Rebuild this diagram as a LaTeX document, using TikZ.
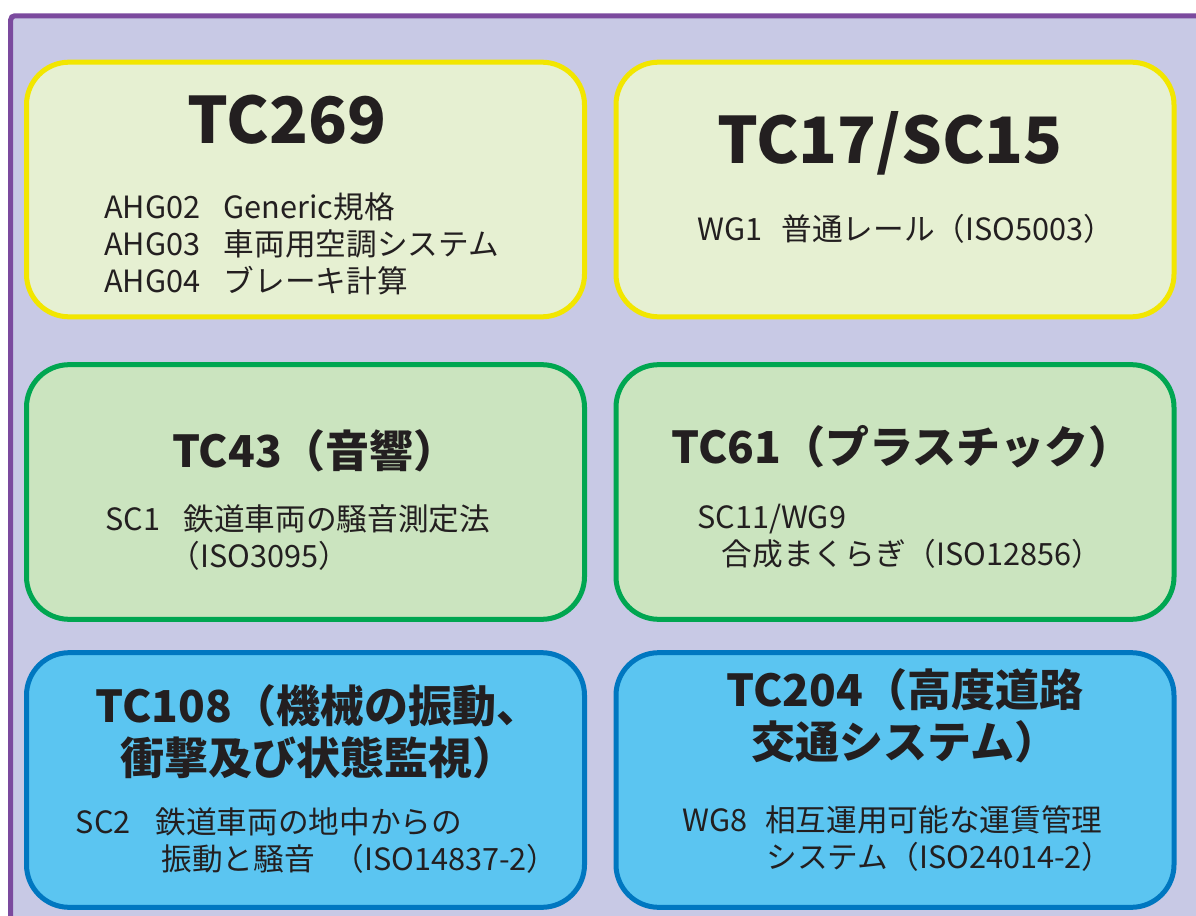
\documentclass[tikz,border=0pt]{standalone}
\usepackage{fontspec}
\setmainfont{Noto Sans CJK JP}

\definecolor{frameviolet}{HTML}{7B4A9E}
\definecolor{backlilac}{HTML}{C8C9E5}
\definecolor{ylwline}{HTML}{F2E600}
\definecolor{ylwfill}{HTML}{E6F0D2}
\definecolor{grnline}{HTML}{00A651}
\definecolor{grnfill}{HTML}{CBE4BF}
\definecolor{blueline}{HTML}{0077C0}
\definecolor{bluefill}{HTML}{5BC5F1}
\definecolor{inkgray}{HTML}{231F20}

\newcommand{\lbl}[2]{\makebox[#1][l]{#2}}

\begin{document}
\begin{tikzpicture}[x=0.75pt,y=-0.75pt]
\tikzset{panel/.style={rectangle,rounded corners=32pt,line width=3.75pt,
    minimum width=418.5pt,minimum height=191pt,inner sep=0pt,outer sep=0pt},
  bighead/.style={text=inkgray,inner sep=0pt,font=\fontsize{48}{52}\selectfont\bfseries},
  head/.style={text=inkgray,inner sep=0pt,align=center,font=\fontsize{33}{39}\selectfont\bfseries},
  body/.style={text=inkgray,inner sep=0pt,align=left,anchor=west,font=\fontsize{23}{27.75}\selectfont}}
\useasboundingbox (0,0) rectangle (1196,916);
\fill[backlilac] (10.7,15.8) rectangle (1196,916);
\draw[frameviolet,line width=3.8pt,rounded corners=3pt] (10.7,916) -- (10.7,15.8) -- (1196,15.8);

% the six committee panels
\node[panel,draw=ylwline,fill=ylwfill] (tc269) at (305.5,189.5) {};
\node[panel,draw=ylwline,fill=ylwfill] (tc17) at (895,189.5) {};
\node[panel,draw=grnline,fill=grnfill] (tc43) at (305.5,492) {};
\node[panel,draw=grnline,fill=grnfill] (tc61) at (895,492) {};
\node[panel,draw=blueline,fill=bluefill] (tc108) at (305.5,780) {};
\node[panel,draw=blueline,fill=bluefill] (tc204) at (895,780) {};

% TC269
\node[bighead] (tc269-head) at (287,120) {TC269};
\node[body] (tc269-body) at (104,244) {\lbl{3.9em}{AHG02}Generic規格\\
  \lbl{3.9em}{AHG03}車両用空調システム\\
  \lbl{3.9em}{AHG04}ブレーキ計算};

% TC17/SC15
\node[bighead] (tc17-head) at (890,143) {TC17/SC15};
\node[body] (tc17-body) at (697,229) {\lbl{2.75em}{WG1}普通レール（ISO5003）};

% TC43
\node[head] (tc43-head) at (315,451) {TC43（音響）};
\node[body] (tc43-body) at (105,538) {\lbl{2.55em}{SC1}鉄道車両の騒音測定法\\
  \hspace*{2.1em}（ISO3095）};

% TC61
\node[head] (tc61-head) at (902,447) {TC61（プラスチック）};
\node[body] (tc61-body) at (697,536) {SC11/WG9\\
  \hspace*{0.8em}合成まくらぎ（ISO12856）};

% TC108
\node[head] (tc108-head) at (318,732) {TC108（機械の振動、\\衝撃及び状態監視）};
\node[body] (tc108-body) at (75.5,841) {\lbl{2.6em}{SC2}鉄道車両の地中からの\\
  \hspace*{2.8em}振動と騒音\hspace{0.6em}（ISO14837-2）};

% TC204
\node[head] (tc204-head) at (905,716) {TC204（高度道路\\交通システム）};
\node[body] (tc204-body) at (682,838.5) {\lbl{2.7em}{WG8}相互運用可能な運賃管理\\
  \hspace*{2.75em}システム（ISO24014-2）};
\end{tikzpicture}
\end{document}
